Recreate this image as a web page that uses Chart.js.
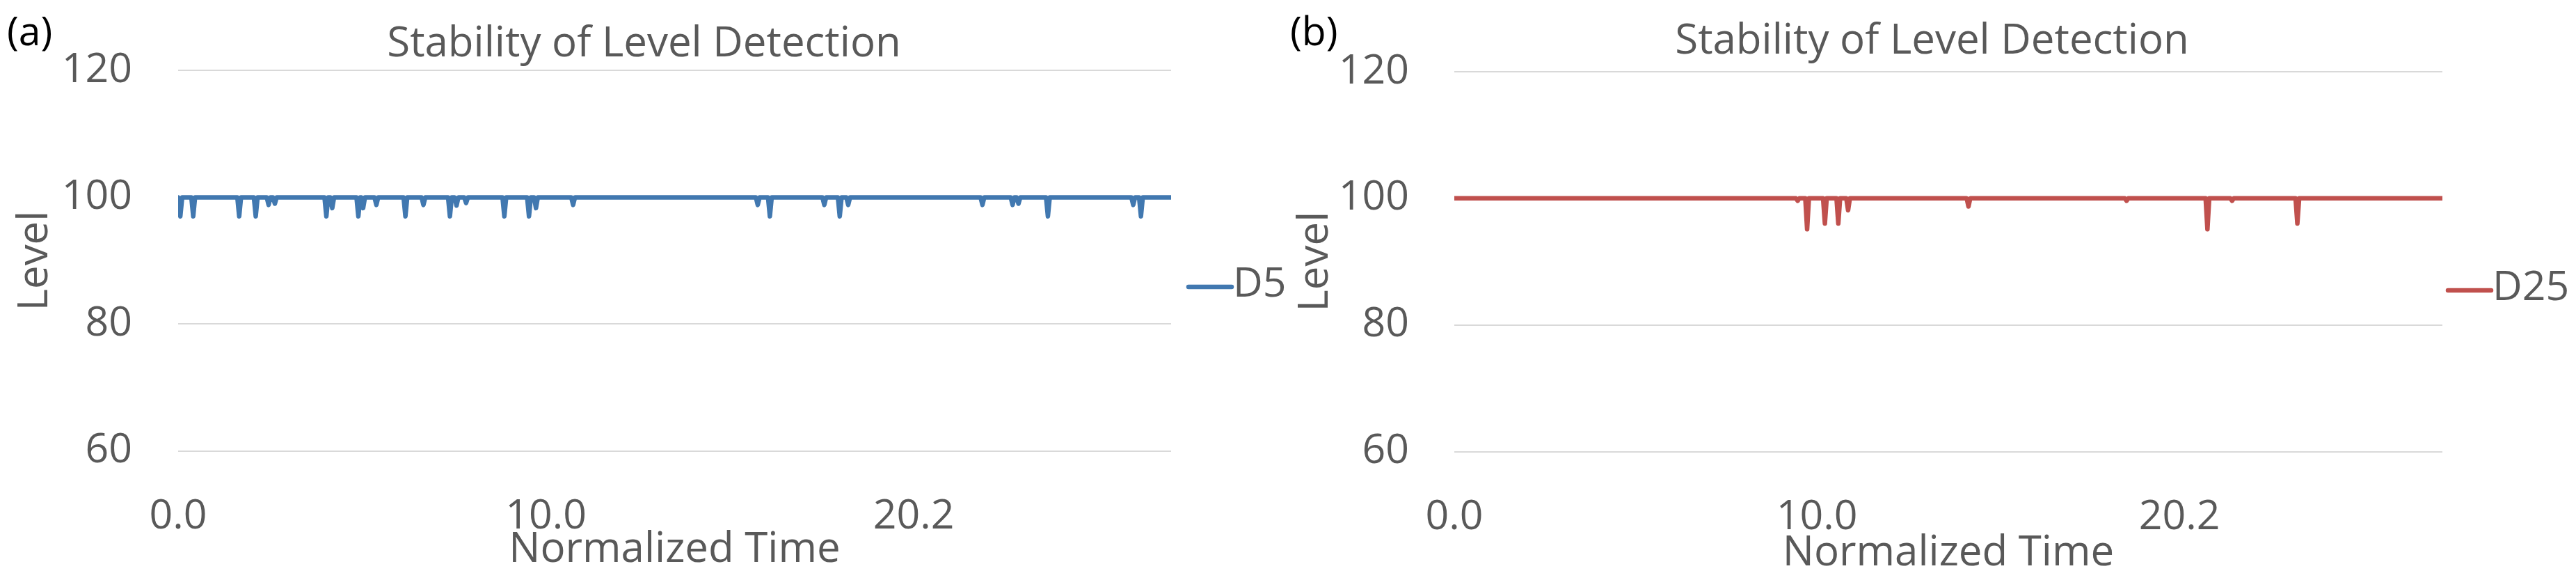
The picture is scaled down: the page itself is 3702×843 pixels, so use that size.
<!DOCTYPE html>
<html>
<head>
<meta charset="utf-8">
<title>Stability of Level Detection</title>
<script src="https://cdn.jsdelivr.net/npm/chart.js@4.4.1/dist/chart.umd.min.js"></script>
<style>
  html, body { margin: 0; padding: 0; background: #fff; }
  body { width: 3702px; height: 843px; position: relative; overflow: hidden; font-family: 'Open Sans', sans-serif; }
  canvas { position: absolute; top: 0; }
  #chartA { left: 0; }
  #chartB { left: 1851px; }
  .panel { position: absolute; font-size: 57px; line-height: 57px; color: #000; }
</style>
</head>
<body>
<canvas id="chartA" width="1851" height="843"></canvas>
<canvas id="chartB" width="1851" height="843"></canvas>
<div class="panel" style="left:10px; top:15px">(a)</div>
<div class="panel" style="left:1854px; top:15px">(b)</div>
<script>
// values. x is the evenly spaced time position
// (the original uses a category axis, so "20.2" sits at the 20th step)
const baseLevel = 100;
const sampleStep = 0.05;   // time between neighbouring samples

const d5End = 27.0;
const d5DipTimes  = [0.06, 0.41, 1.66, 2.11, 2.46, 2.63, 4.03, 4.19, 4.90, 5.03, 5.39, 6.18, 6.67, 7.39, 7.57, 7.83,
                     8.87, 9.54, 9.73, 10.74, 15.76, 16.09, 17.57, 17.99, 18.22, 21.87, 22.69, 22.85, 23.65, 25.97, 26.18];
const d5DipLevels = [97, 97, 97, 97, 98.8, 99.0, 97, 98.3, 97, 98.3, 98.8, 97, 98.8, 97, 98.7, 99.1,
                     97, 97, 98.3, 98.8, 98.8, 97, 98.8, 97, 98.8, 98.8, 98.8, 99.0, 97, 98.8, 97];

const d25End = 27.25;
const d25DipTimes  = [9.47, 9.73, 10.22, 10.59, 10.86, 14.18, 18.54, 20.77, 21.45, 23.25];
const d25DipLevels = [99.6, 95.1, 96.0, 96.0, 98.1, 98.7, 99.6, 95.1, 99.6, 96.0];

const xTickPos = [0, 10, 20];
const xTickLabels = ['0.0', '10.0', '20.2'];
const yTicks = [60, 80, 100, 120];

const textColor = '#595959';
const fontFamily = "'Open Sans', sans-serif";
Chart.defaults.font.family = fontFamily;
Chart.defaults.color = textColor;

function buildSeries(end, times, levels) {
  const pts = [{x: 0, y: baseLevel}];
  times.forEach((t, i) => {
    pts.push({x: t - sampleStep, y: baseLevel});
    pts.push({x: t, y: levels[i]});
    pts.push({x: t + sampleStep, y: baseLevel});
  });
  pts.push({x: end, y: baseLevel});
  return pts;
}

// small legend: line swatch + label, placed like the Excel legend
const lineLegend = {
  id: 'lineLegend',
  afterDraw(chart, args, opts) {
    const ctx = chart.ctx;
    const ds = chart.data.datasets[0];
    ctx.save();
    ctx.strokeStyle = ds.borderColor;
    ctx.lineWidth = ds.borderWidth;
    ctx.lineCap = 'round';
    ctx.beginPath();
    ctx.moveTo(opts.x, opts.y);
    ctx.lineTo(opts.x + opts.length, opts.y);
    ctx.stroke();
    ctx.fillStyle = textColor;
    ctx.font = opts.size + 'px ' + fontFamily;
    ctx.textBaseline = 'middle';
    ctx.fillText(ds.label, opts.x + opts.length + opts.gap, opts.y - 3);
    ctx.restore();
  }
};

function makeChart(id, cfg) {
  const ctx = document.getElementById(id).getContext('2d');
  return new Chart(ctx, {
    type: 'line',
    data: {
      datasets: [{
        label: cfg.label,
        data: buildSeries(cfg.end, cfg.times, cfg.levels),
        borderColor: cfg.color,
        borderWidth: 6.5,
        borderJoinStyle: 'round',
        borderCapStyle: 'round',
        pointRadius: 0,
        pointHoverRadius: 0,
        tension: 0,
        fill: false
      }]
    },
    options: {
      responsive: false,
      devicePixelRatio: 1,
      animation: false,
      events: [],
      layout: { padding: 0 },
      plugins: {
        legend: { display: false },
        tooltip: { enabled: false },
        title: {
          display: true,
          text: 'Stability of Level Detection',
          color: textColor,
          font: { size: 60, weight: 'normal' },
          padding: { top: 24, bottom: cfg.titleBottom }
        },
        lineLegend: cfg.legend
      },
      scales: {
        x: {
          type: 'linear',
          min: 0,
          max: cfg.end,
          afterBuildTicks: s => { s.ticks = xTickPos.map(v => ({value: v})); },
          afterFit: s => { s.height = cfg.xAxisHeight; },
          grid: { display: false },
          border: { display: false },
          ticks: {
            autoSkip: false,
            maxRotation: 0,
            padding: 51,
            color: textColor,
            font: { size: 59 },
            callback: (v, i) => xTickLabels[i]
          },
          title: {
            display: true,
            text: 'Normalized Time',
            color: textColor,
            font: { size: 60 },
            padding: { top: 0, bottom: cfg.xTitleBottom }
          }
        },
        y: {
          min: 60,
          max: 120,
          afterBuildTicks: s => { s.ticks = yTicks.map(v => ({value: v})); },
          afterFit: s => { s.width = cfg.yAxisWidth; },
          grid: { color: '#D9D9D9', lineWidth: 2, drawTicks: false },
          border: { display: false },
          ticks: { padding: cfg.yTickPad, color: textColor, font: { size: 59 } },
          title: {
            display: true,
            text: 'Level',
            color: textColor,
            font: { size: 60 },
            padding: { top: cfg.yTitleTop, bottom: 0 }
          }
        },
        // empty right-hand axis that only keeps room for the legend,
        // so the title stays centred on the whole chart like in Excel
        legendSpace: {
          position: 'right',
          display: true,
          afterFit: s => { s.width = cfg.legendSpace; },
          grid: { display: false },
          border: { display: false },
          ticks: { display: false }
        }
      }
    },
    plugins: [lineLegend]
  });
}

makeChart('chartA', {
  label: 'D5', color: '#4178B0',
  end: d5End, times: d5DipTimes, levels: d5DipLevels,
  legendSpace: 168, titleBottom: 1, xAxisHeight: 195.5, xTitleBottom: 17,
  yAxisWidth: 256, yTickPad: 66, yTitleTop: 15,
  legend: { x: 1708, y: 412, length: 62, gap: 2, size: 59 }
});

makeChart('chartB', {
  label: 'D25', color: '#C0504D',
  end: d25End, times: d25DipTimes, levels: d25DipLevels,
  legendSpace: 192, titleBottom: 6.7, xAxisHeight: 194.5, xTitleBottom: 12,
  yAxisWidth: 239, yTickPad: 65, yTitleTop: 4,
  legend: { x: 1667, y: 417, length: 62, gap: 2, size: 59 }
});
</script>
</body>
</html>
